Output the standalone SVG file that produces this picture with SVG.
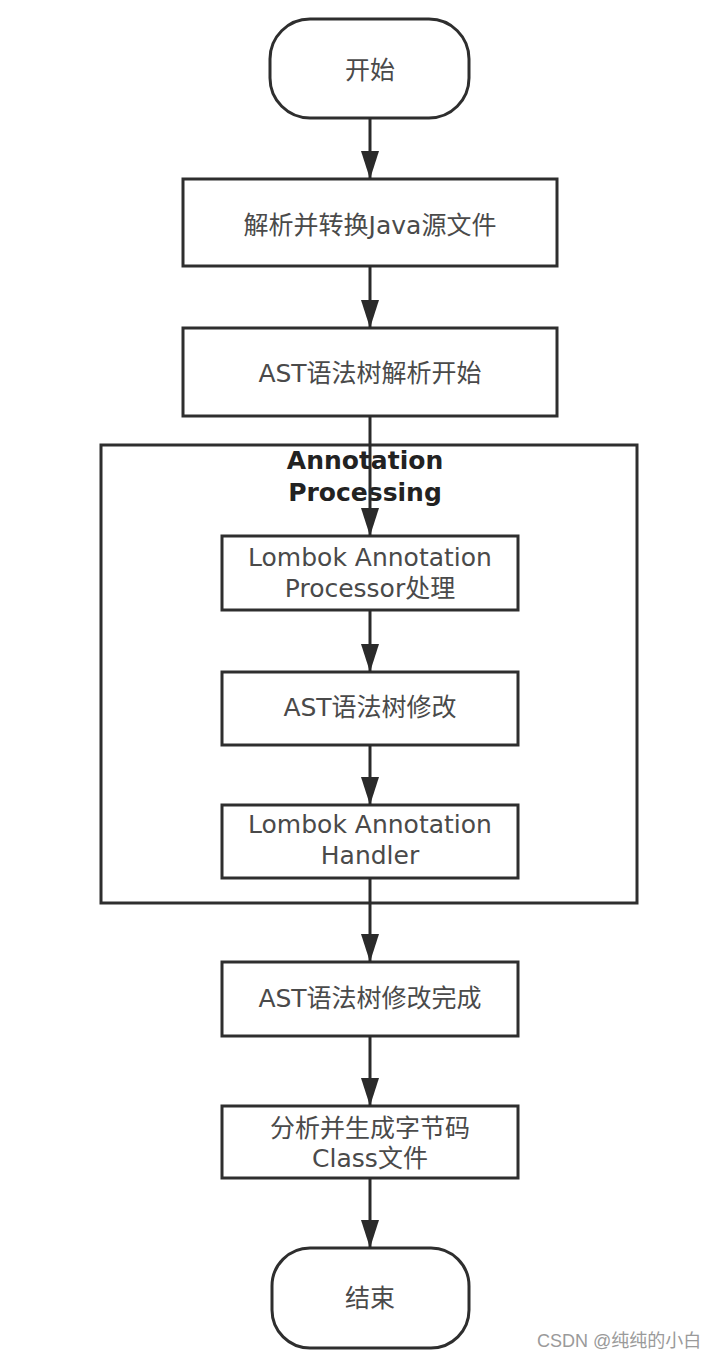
<svg xmlns="http://www.w3.org/2000/svg" width="720" height="1360" viewBox="0 0 720 1360">
<defs>
<style>
.box{fill:#ffffff;stroke:#2e2e2e;stroke-width:3}
.grp{fill:none;stroke:#2e2e2e;stroke-width:3}
.t{font-family:"DejaVu Sans","Noto Sans CJK SC",sans-serif;font-size:25px;fill:#4a4a4a;text-anchor:middle}
.title{font-family:"DejaVu Sans","Noto Sans CJK SC",sans-serif;font-size:25px;font-weight:bold;fill:#222;text-anchor:middle}
.edge{fill:none;stroke:#2a2a2a;stroke-width:3}
.wm{font-family:"Liberation Sans","Noto Sans CJK SC",sans-serif;font-size:18px;fill:#9a9a9a}
</style>
<marker id="arr" viewBox="0 0 28 18" refX="28" refY="9" markerWidth="28" markerHeight="18" markerUnits="userSpaceOnUse" orient="auto">
<path d="M0,0 L28,9 L0,18 z" fill="#2a2a2a"/>
</marker>
</defs>
<rect width="720" height="1360" fill="#ffffff"/>

<g id="group-annotation">
<rect class="grp" x="101" y="445" width="536" height="458"/>
<text class="title" x="365" y="469">Annotation</text>
<text class="title" x="365" y="501">Processing</text>
</g>

<g id="start">
<rect class="box" x="270" y="19" width="199" height="99" rx="40" ry="40"/>
<text class="t" x="370" y="79">开始</text>
</g>

<g id="parse">
<rect class="box" x="183" y="179" width="374" height="87"/>
<text class="t" x="370" y="234">解析并转换Java源文件</text>
</g>

<g id="ast-start">
<rect class="box" x="183" y="328" width="374" height="88"/>
<text class="t" x="370" y="382">AST语法树解析开始</text>
</g>

<g id="lombok-processor">
<rect class="box" x="222" y="536" width="296" height="74"/>
<text class="t" x="370" y="566">Lombok Annotation</text>
<text class="t" x="370" y="597">Processor处理</text>
</g>

<g id="ast-modify">
<rect class="box" x="222" y="672" width="296" height="73"/>
<text class="t" x="370" y="716">AST语法树修改</text>
</g>

<g id="lombok-handler">
<rect class="box" x="222" y="805" width="296" height="73"/>
<text class="t" x="370" y="833">Lombok Annotation</text>
<text class="t" x="370" y="864">Handler</text>
</g>

<g id="ast-done">
<rect class="box" x="222" y="962" width="296" height="74"/>
<text class="t" x="370" y="1007">AST语法树修改完成</text>
</g>

<g id="bytecode">
<rect class="box" x="222" y="1106" width="296" height="72"/>
<text class="t" x="370" y="1137">分析并生成字节码</text>
<text class="t" x="370" y="1167">Class文件</text>
</g>

<g id="end">
<rect class="box" x="272" y="1248" width="197" height="100" rx="38" ry="38"/>
<text class="t" x="370" y="1307">结束</text>
</g>

<g id="connectors">
<line class="edge" x1="370" y1="118" x2="370" y2="179" marker-end="url(#arr)"/>
<line class="edge" x1="370" y1="266" x2="370" y2="328" marker-end="url(#arr)"/>
<line class="edge" x1="370" y1="416" x2="370" y2="536" marker-end="url(#arr)"/>
<line class="edge" x1="370" y1="610" x2="370" y2="672" marker-end="url(#arr)"/>
<line class="edge" x1="370" y1="745" x2="370" y2="805" marker-end="url(#arr)"/>
<line class="edge" x1="370" y1="878" x2="370" y2="962" marker-end="url(#arr)"/>
<line class="edge" x1="370" y1="1036" x2="370" y2="1106" marker-end="url(#arr)"/>
<line class="edge" x1="370" y1="1178" x2="370" y2="1248" marker-end="url(#arr)"/>
</g>

<text class="wm" x="537" y="1347">CSDN @纯纯的小白</text>
</svg>
